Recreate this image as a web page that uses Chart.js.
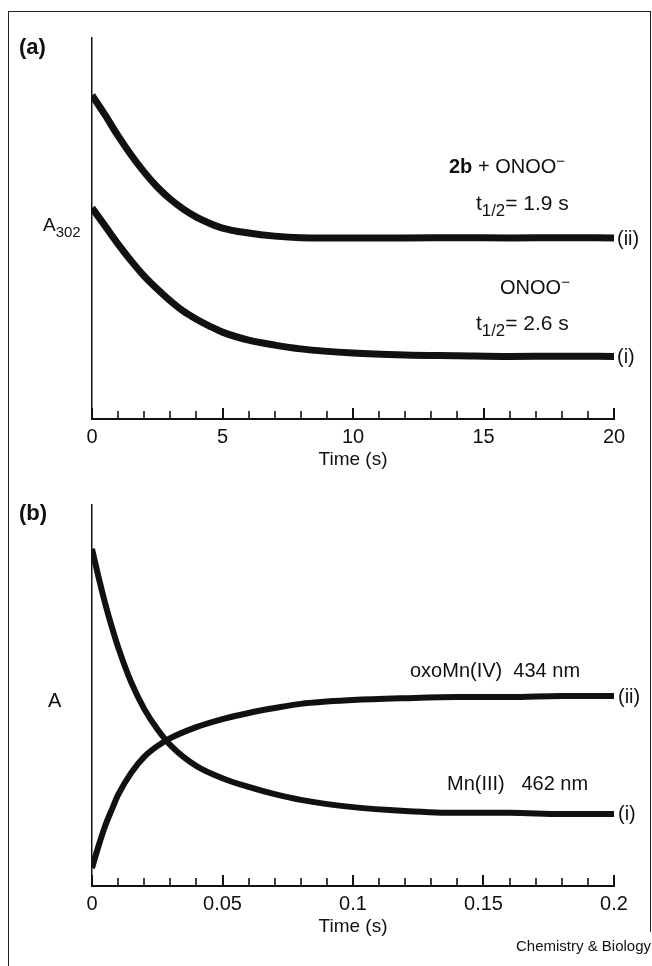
<!DOCTYPE html>
<html>
<head>
<meta charset="utf-8">
<script src="https://cdn.jsdelivr.net/npm/chart.js@4.4.1/dist/chart.umd.min.js"></script>
<style>
  html, body { margin: 0; padding: 0; background: #fff; }
  body { width: 652px; height: 966px; position: relative; overflow: hidden;
         font-family: "Liberation Sans", Arial, Helvetica, sans-serif; color: #111; }
  #frame { position: absolute; left: 8px; top: 11px; width: 641px; height: 920px;
           border: 1.5px solid #222; border-bottom: none; }
  #leftline { position: absolute; left: 8px; top: 11px; height: 955px; border-left: 1.5px solid #222; }
  canvas { position: absolute; left: 0; }
  #chartA { top: 0; }
  #chartB { top: 480px; }
  .t { position: absolute; white-space: pre; line-height: 1; transform: translateY(-50%); font-size: 20px; }
  .sub { position: relative; top: 0.38em; font-size: 0.8em; }
  .sup { position: relative; top: -0.45em; font-size: 0.75em; }
  .b { font-weight: bold; }
</style>
</head>
<body>
<div id="frame"></div>
<div id="leftline"></div>
<canvas id="chartA" width="652" height="480"></canvas>
<canvas id="chartB" width="652" height="486"></canvas>

<div class="t b" style="left:19px;top:47px;font-size:22px;">(a)</div>
<div class="t" style="left:43px;top:224px;font-size:19px;">A<span class="sub" style="font-size:15px;">302</span></div>
<div class="t" style="left:449px;top:166px;"><span class="b">2b</span> + ONOO<span class="sup">−</span></div>
<div class="t" style="left:476px;top:203px;font-size:21px;">t<span class="sub">1/2</span>= 1.9 s</div>
<div class="t" style="left:617px;top:238px;">(ii)</div>
<div class="t" style="left:500px;top:287px;">ONOO<span class="sup">−</span></div>
<div class="t" style="left:476px;top:323px;font-size:21px;">t<span class="sub">1/2</span>= 2.6 s</div>
<div class="t" style="left:617px;top:356px;">(i)</div>

<div class="t b" style="left:19px;top:513px;font-size:22px;">(b)</div>
<div class="t" style="left:48px;top:700px;">A</div>
<div class="t" style="left:410px;top:670px;">oxoMn(IV)  434 nm</div>
<div class="t" style="left:618px;top:696px;">(ii)</div>
<div class="t" style="left:447px;top:783px;">Mn(III)   462 nm</div>
<div class="t" style="left:618px;top:813px;">(i)</div>
<div class="t" style="right:1px;top:945px;font-size:15px;">Chemistry &amp; Biology</div>

<script>
// panel (a): A302 decay of peroxynitrite, time in s
const timeA = [0, 0.5, 1, 1.5, 2, 2.5, 3, 3.5, 4, 4.5, 5, 6, 7, 8, 10, 12, 14, 16, 18, 20];
const a302With2b = [0.850, 0.798, 0.743, 0.693, 0.648, 0.609, 0.577, 0.551, 0.530, 0.514,
                    0.501, 0.488, 0.480, 0.476, 0.475, 0.475, 0.476, 0.475, 0.476, 0.475];
const a302Onoo = [0.554, 0.507, 0.459, 0.415, 0.375, 0.341, 0.310, 0.283, 0.262, 0.244,
                  0.228, 0.207, 0.194, 0.184, 0.173, 0.168, 0.166, 0.164, 0.165, 0.164];
const ticksA = ['0', '5', '10', '15', '20'];

// panel (b): Mn(III) 462 nm and oxoMn(IV) 434 nm traces, time in s
const timeB = [0, 0.0025, 0.005, 0.0075, 0.01, 0.015, 0.02, 0.025, 0.03, 0.04,
               0.05, 0.06, 0.07, 0.08, 0.1, 0.12, 0.14, 0.16, 0.18, 0.2];
const mn3At462 = [0.885, 0.811, 0.743, 0.682, 0.627, 0.535, 0.465, 0.412, 0.370, 0.315,
                  0.283, 0.260, 0.241, 0.226, 0.207, 0.197, 0.192, 0.192, 0.189, 0.189];
const oxoMn4At434 = [0.047, 0.105, 0.157, 0.199, 0.239, 0.297, 0.339, 0.367, 0.388, 0.417,
                     0.438, 0.454, 0.467, 0.478, 0.488, 0.493, 0.496, 0.496, 0.499, 0.499];
const ticksB = ['0', '0.05', '0.1', '0.15', '0.2'];

const INK = '#111';
const FONT = '"Liberation Sans", Arial, Helvetica, sans-serif';

// ticks pointing up into the plot, longer at labelled positions
const inwardTicks = {
  id: 'inwardTicks',
  afterDatasetsDraw(chart) {
    const xs = chart.scales.x;
    const ctx = chart.ctx;
    ctx.save();
    ctx.strokeStyle = INK;
    xs.ticks.forEach((t, i) => {
      const px = Math.round(xs.getPixelForTick(i));
      const major = i % 5 === 0;
      ctx.lineWidth = major ? 2 : 1.6;
      ctx.beginPath();
      ctx.moveTo(px, xs.top);
      ctx.lineTo(px, xs.top - (major ? 11 : 8));
      ctx.stroke();
    });
    ctx.restore();
  }
};

function toPoints(xs, ys) {
  return xs.map((x, i) => ({ x: x, y: ys[i] }));
}

function makeChart(id, times, series, xMax, step, tickLabels, pad, width) {
  return new Chart(document.getElementById(id), {
    type: 'line',
    data: {
      datasets: series.map(s => ({
        data: toPoints(times, s),
        borderColor: INK,
        borderWidth: width,
        pointRadius: 0,
        cubicInterpolationMode: 'monotone',
        fill: false
      }))
    },
    options: {
      responsive: false,
      animation: false,
      layout: { padding: pad },
      plugins: { legend: { display: false }, tooltip: { enabled: false } },
      scales: {
        x: {
          type: 'linear',
          min: 0,
          max: xMax,
          afterFit: s => { s.height = 52; },
          grid: { display: false, drawTicks: false },
          border: { display: true, color: INK, width: 2 },
          ticks: {
            stepSize: step,
            autoSkip: false,
            maxRotation: 0,
            padding: 6,
            color: INK,
            font: { family: FONT, size: 20 },
            callback: (v, i) => (i % 5 === 0 ? tickLabels[i / 5] : '')
          },
          title: {
            display: true,
            text: 'Time (s)',
            color: INK,
            padding: { top: 0, bottom: 0 },
            font: { family: FONT, size: 19 }
          }
        },
        y: {
          min: 0,
          max: 1,
          afterFit: s => { s.width = 0; },
          grid: { display: false },
          border: { display: true, color: INK, width: 1.5 },
          ticks: { display: false }
        }
      }
    },
    plugins: [inwardTicks]
  });
}

makeChart('chartA', timeA, [a302With2b, a302Onoo], 20, 1, ticksA,
  { left: 92, right: 38, top: 38, bottom: 9 }, 7);
makeChart('chartB', timeB, [mn3At462, oxoMn4At434], 0.2, 0.01, ticksB,
  { left: 92, right: 38, top: 25, bottom: 28 }, 6);
</script>
</body>
</html>
